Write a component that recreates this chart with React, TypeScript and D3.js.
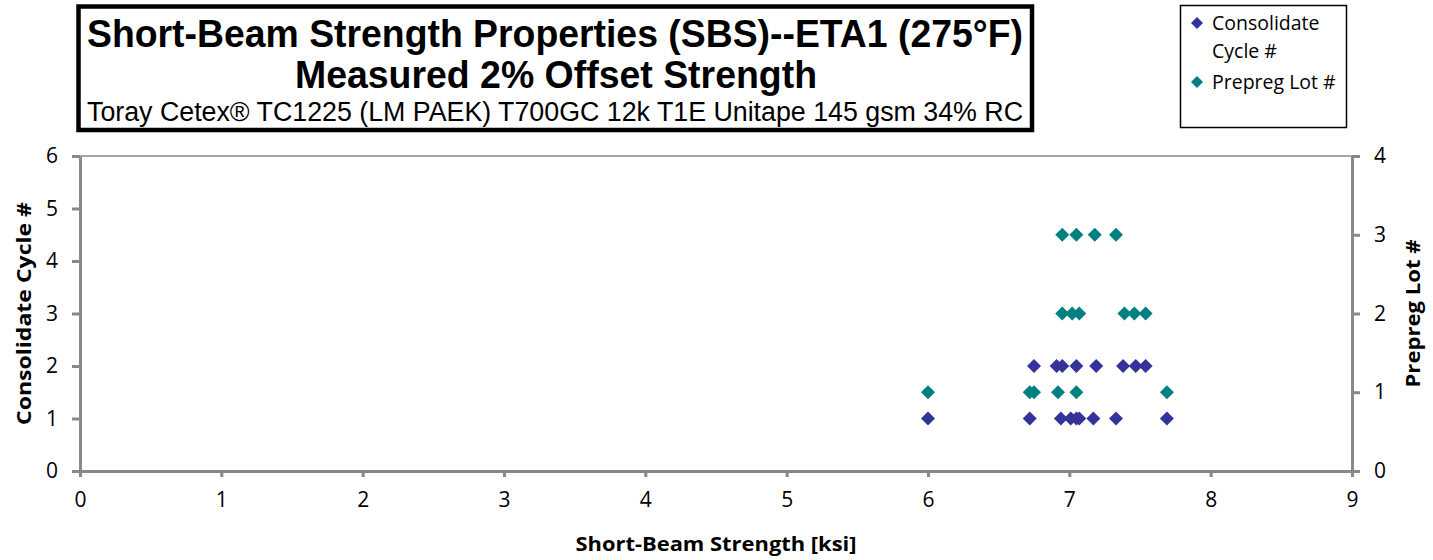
import * as d3 from "d3";
import React, {useEffect, useRef} from "react";

// Consolidate cycle # (left axis)
const cycleStrength = [6.75, 6.91, 6.95, 7.05, 7.19, 7.38, 7.47, 7.54,
  6.0, 6.72, 6.94, 7.01, 7.05, 7.07, 7.17, 7.33, 7.69];
const cycleValue = [2, 2, 2, 2, 2, 2, 2, 2,
  1, 1, 1, 1, 1, 1, 1, 1, 1];

// Prepreg lot # (right axis)
const lotStrength = [6.0, 6.72, 6.75, 6.92, 7.05, 7.69,
  6.95, 7.02, 7.07, 7.39, 7.46, 7.54,
  6.95, 7.05, 7.18, 7.33];
const lotValue = [1, 1, 1, 1, 1, 1,
  2, 2, 2, 2, 2, 2,
  3, 3, 3, 3];

const titleLines = [
  "Short-Beam Strength Properties (SBS)--ETA1 (275°F)",
  "Measured 2% Offset Strength",
  "Toray  Cetex® TC1225  (LM PAEK) T700GC  12k T1E  Unitape  145 gsm 34%  RC",
];
const xTitle = "Short-Beam  Strength [ksi]";
const yLeftTitle = "Consolidate  Cycle #";
const yRightTitle = "Prepreg Lot #";
const legendNames = ["Consolidate", "Cycle #", "Prepreg Lot #"];

const W = 1433;
const H = 560;
const left = 80;
const right = 1352;
const top = 156;
const bottom = 471;
const axisColor = "#898989";
const navy = "#333399";
const teal = "#008080";
const uiFont = "'Open Sans', Lato, sans-serif";
const narrowFont = "'Liberation Sans Narrow', 'Arial Narrow', 'Liberation Sans', Arial, sans-serif";

const diamond = (s: number) => `M0,${-s}L${s},0L0,${s}L${-s},0Z`;

const App: React.FC = () => {
  const xRef = useRef<SVGGElement | null>(null);
  const yLRef = useRef<SVGGElement | null>(null);
  const yRRef = useRef<SVGGElement | null>(null);

  const x = d3.scaleLinear().domain([0, 9]).range([left, right]);
  const yL = d3.scaleLinear().domain([0, 6]).range([bottom, top]);
  const yR = d3.scaleLinear().domain([0, 4]).range([bottom, top]);

  useEffect(() => {
    const style = (g: d3.Selection<SVGGElement, unknown, null, undefined>) => {
      g.select(".domain").style("stroke", axisColor).style("stroke-width", "3px");
      g.selectAll(".tick line").style("stroke", axisColor).style("stroke-width", "3px");
      g.selectAll(".tick text")
        .style("fill", "#000")
        .style("font-size", "21px")
        .style("font-family", uiFont);
    };
    if (xRef.current) {
      const g = d3.select(xRef.current);
      g.selectAll("*").remove();
      g.call(d3.axisBottom(x).ticks(9).tickSizeInner(6).tickSizeOuter(0).tickPadding(15));
      style(g);
    }
    if (yLRef.current) {
      const g = d3.select(yLRef.current);
      g.selectAll("*").remove();
      g.call(d3.axisLeft(yL).ticks(6).tickSizeInner(8).tickSizeOuter(0).tickPadding(14));
      style(g);
    }
    if (yRRef.current) {
      const g = d3.select(yRRef.current);
      g.selectAll("*").remove();
      g.call(d3.axisRight(yR).ticks(4).tickSizeInner(8).tickSizeOuter(0).tickPadding(14));
      style(g);
    }
  }, []);

  return (
    <svg width={W} height={H} style={{display: "block", position: "absolute", left: 0, top: 0}}>
      <rect width={W} height={H} fill="#fff"/>

      {/* title box */}
      <rect x={78.5} y={6.5} width={953.5} height={123.5} fill="#fff" stroke="#000" strokeWidth={4.5}/>
      <text x={555} y={47} textAnchor="middle" fontFamily={narrowFont} fontWeight="bold" fontSize={38}
            textLength={936} lengthAdjust="spacingAndGlyphs">{titleLines[0]}</text>
      <text x={556} y={88} textAnchor="middle" fontFamily={narrowFont} fontWeight="bold" fontSize={38}
            textLength={522} lengthAdjust="spacingAndGlyphs">{titleLines[1]}</text>
      <text x={555} y={121} textAnchor="middle" fontFamily={narrowFont} fontSize={27}
            textLength={936} lengthAdjust="spacingAndGlyphs">{titleLines[2]}</text>

      {/* legend */}
      <rect x={1180.5} y={5.5} width={166} height={122} fill="#fff" stroke="#000" strokeWidth={1.5}/>
      <path d={diamond(6)} transform="translate(1197,23)" fill={navy}/>
      <text x={1212} y={30} fontFamily={uiFont} fontSize={19.5}>{legendNames[0]}</text>
      <text x={1212} y={58} fontFamily={uiFont} fontSize={19.5}>{legendNames[1]}</text>
      <path d={diamond(6)} transform="translate(1197,82)" fill={teal}/>
      <text x={1212} y={89} fontFamily={uiFont} fontSize={19.5}>{legendNames[2]}</text>

      {/* plot frame top */}
      <line x1={left} x2={right} y1={top} y2={top} stroke={axisColor} strokeWidth={1.5}/>

      <g ref={xRef} transform={`translate(0,${bottom})`}/>
      <g ref={yLRef} transform={`translate(${left},0)`}/>
      <g ref={yRRef} transform={`translate(${right},0)`}/>

      {/* points */}
      {cycleStrength.map((v, i) => (
        <path key={`c${i}`} d={diamond(7)} fill={navy}
              transform={`translate(${x(v)},${yL(cycleValue[i])})`}/>
      ))}
      {lotStrength.map((v, i) => (
        <path key={`l${i}`} d={diamond(7)} fill={teal}
              transform={`translate(${x(v)},${yR(lotValue[i])})`}/>
      ))}

      {/* axis titles */}
      <text x={716} y={551} textAnchor="middle" fontFamily={uiFont} fontWeight="bold" fontSize={20}
            textLength={281} lengthAdjust="spacingAndGlyphs">{xTitle}</text>
      <text transform={`translate(31,${(top + bottom) / 2}) rotate(-90)`} textAnchor="middle"
            fontFamily={uiFont} fontWeight="bold" fontSize={20}
            textLength={223} lengthAdjust="spacingAndGlyphs">{yLeftTitle}</text>
      <text transform={`translate(1420,${(top + bottom) / 2}) rotate(-90)`} textAnchor="middle"
            fontFamily={uiFont} fontWeight="bold" fontSize={20}
            textLength={148} lengthAdjust="spacingAndGlyphs">{yRightTitle}</text>
    </svg>
  );
};

export default App;
